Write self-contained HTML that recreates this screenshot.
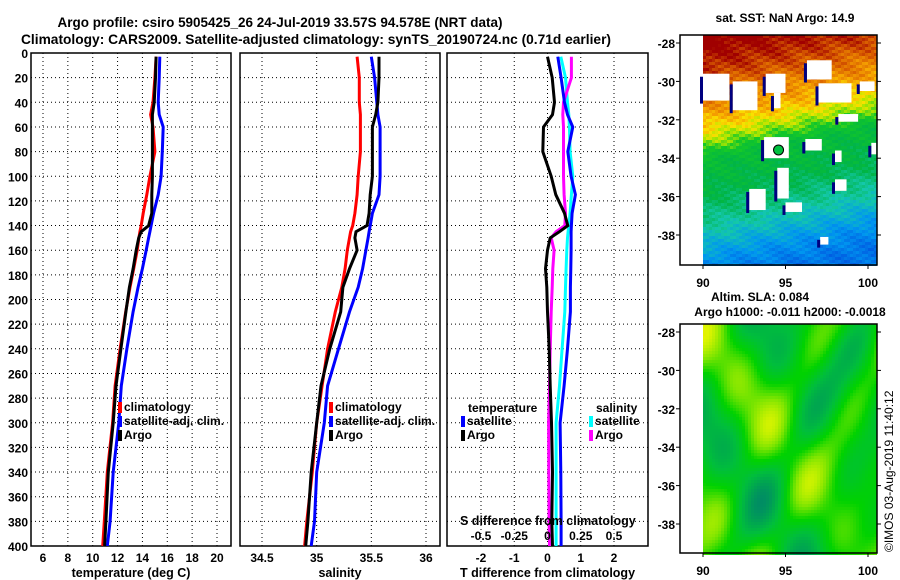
<!DOCTYPE html>
<html><head><meta charset="utf-8"><style>
body{margin:0;background:#fff;}
svg{display:block;font-family:"Liberation Sans",sans-serif;font-weight:bold;}
</style></head><body>
<svg id="fig" width="900" height="580" viewBox="0 0 900 580">
<text x="280" y="27" font-size="14" text-anchor="middle" textLength="445" lengthAdjust="spacingAndGlyphs">Argo profile: csiro 5905425_26 24-Jul-2019 33.57S 94.578E (NRT data)</text>
<text x="316" y="44" font-size="14" text-anchor="middle" textLength="590" lengthAdjust="spacingAndGlyphs">Climatology: CARS2009. Satellite-adjusted climatology: synTS_20190724.nc (0.71d earlier)</text>
<g id="panels"></g>
<g id="maps"></g>
</svg>
<script>
const depths=[3,20,40,50,60,80,100,115,130,140,145,150,160,175,190,210,240,270,300,340,380,400];
const tClim=[15.1,15.0,14.85,14.66,14.85,15.0,14.6,14.35,14.06,13.9,13.8,13.72,13.58,13.3,13.0,12.65,12.2,11.8,11.6,11.17,10.93,10.8];
const tSat=[15.4,15.35,15.27,15.35,15.67,15.6,15.5,15.27,14.9,14.7,14.6,14.5,14.3,14.0,13.65,13.25,12.75,12.3,12.1,11.65,11.4,11.17];
const tArgo=[15.1,15.05,14.95,14.8,14.8,14.8,14.8,14.75,14.75,14.5,13.9,13.7,13.5,13.25,12.95,12.67,12.27,11.87,11.65,11.25,11.06,10.96];
const sClim=[35.37,35.39,35.39,35.4,35.4,35.4,35.38,35.37,35.35,35.33,35.31,35.3,35.28,35.26,35.23,35.17,35.1,35.05,35.0,34.96,34.91,34.89];
const sSat=[35.5,35.53,35.55,35.56,35.58,35.58,35.58,35.57,35.51,35.49,35.48,35.47,35.45,35.42,35.38,35.3,35.2,35.1,35.07,35.0,34.98,34.95];
const sArgo=[35.57,35.57,35.56,35.54,35.51,35.51,35.51,35.49,35.48,35.46,35.36,35.35,35.37,35.3,35.24,35.22,35.12,35.04,35.0,34.95,34.92,34.9];
const dTSat=[0.31,0.41,0.51,0.6,0.76,0.61,0.71,0.84,0.74,0.72,0.71,0.71,0.71,0.7,0.69,0.69,0.6,0.5,0.38,0.4,0.41,0.41];
const dTArgo=[0.0,0.14,0.21,0.15,-0.12,-0.14,0.11,0.25,0.51,0.61,0.36,0.08,0.0,-0.06,-0.02,0.0,0.05,0.08,0.12,0.15,0.13,0.15];
const dSSat=[0.10,0.135,0.15,0.16,0.165,0.17,0.19,0.18,0.17,0.16,0.155,0.15,0.145,0.14,0.135,0.13,0.11,0.09,0.065,0.065,0.065,0.065];
const dSArgo=[0.18,0.18,0.12,0.115,0.12,0.12,0.12,0.125,0.135,0.13,0.065,0.028,0.05,0.04,0.035,0.028,0.02,0.015,0.008,0.01,0.012,0.015];
const depthTicks=[0,20,40,60,80,100,120,140,160,180,200,220,240,260,280,300,320,340,360,380,400];
const tTicks=[6,8,10,12,14,16,18,20];
const sTicks=[34.5,35,35.5,36];
const dTTicks=[-2,-1,0,1,2];
const dSTicks=[-0.5,-0.25,0,0.25,0.5];
const dSTickLabels=["-0.5","-0.25","0","0.25","0.5"];

const NS='http://www.w3.org/2000/svg';
const panels=document.getElementById('panels');
const maps=document.getElementById('maps');
function mk(tag,attrs,parent){const e=document.createElementNS(NS,tag);for(const k in attrs)e.setAttribute(k,attrs[k]);(parent||panels).appendChild(e);return e;}
const Y0=53,Y1=546;
const yD=d=>Y0+d*(Y1-Y0)/400;
function lin(d0,d1,r0,r1){return v=>r0+(v-d0)*(r1-r0)/(d1-d0);}
const xT=lin(6,20,43,217), xS=lin(34.5,36,262,426), xdT=lin(-2,2,481,614), xdS=lin(-0.5,0.5,481,614);

function frame(x0,x1,name,ticks,xf,labels,xlabel){
  const g=mk('g',{});
  
  
  for(const d of depthTicks){const l=mk('line',{x1:x0,x2:x1,y1:yD(d),y2:yD(d),stroke:'#000','stroke-width':1,'stroke-dasharray':'1,3'},g);}
  ticks.forEach((t,i)=>{const x=xf(t);const l=mk('line',{x1:x,x2:x,y1:Y0,y2:Y1,stroke:'#000','stroke-width':1,'stroke-dasharray':'1,3'},g);
    if(labels){const tx=mk('text',{x:x,y:Y1+16,'font-size':12,'text-anchor':'middle'},g);tx.textContent=labels[i];}});
  const r=mk('rect',{x:x0,y:Y0,width:x1-x0,height:Y1-Y0,fill:'none',stroke:'#000','stroke-width':1.5},g);
  
  const xl=mk('text',{x:(x0+x1)/2,y:Y1+31,'font-size':12.5,'text-anchor':'middle'},g);xl.textContent=xlabel;
  
  return g;
}
function series(vals,xf,color,name,g){
  const pts=vals.map((v,i)=>xf(v).toFixed(1)+','+yD(depths[i]).toFixed(1)).join(' ');
  const p=mk('polyline',{points:pts,fill:'none',stroke:color,'stroke-width':3,'stroke-linejoin':'miter'},g);
  
}
function legend(x,y,color,label,g){
  const r=mk('rect',{x:x,y:y-9,width:4,height:11,fill:color},g);
  const t=mk('text',{x:x+6,y:y,'font-size':12},g);t.textContent=label;
}
for(const d of depthTicks){const t=mk('text',{x:28,y:yD(d)+5,'font-size':12,'text-anchor':'end'});t.textContent=d;}

const g1=frame(31,231,'temperature-panel',tTicks,xT,tTicks,'temperature (deg C)');
series(tClim,xT,'#f00','series-t-climatology',g1);
series(tSat,xT,'#00f','series-t-satellite',g1);
series(tArgo,xT,'#000','series-t-argo',g1);
legend(118,411,'#f00','climatology',g1);legend(118,425,'#00f','satellite-adj. clim.',g1);legend(118,439,'#000','Argo',g1);

const g2=frame(240,440,'salinity-panel',sTicks,xS,["34.5","35","35.5","36"],'salinity');
series(sClim,xS,'#f00','series-s-climatology',g2);
series(sSat,xS,'#00f','series-s-satellite',g2);
series(sArgo,xS,'#000','series-s-argo',g2);
legend(329,411,'#f00','climatology',g2);legend(329,425,'#00f','satellite-adj. clim.',g2);legend(329,439,'#000','Argo',g2);

const g3=frame(447,648,'difference-panel',dTTicks,xdT,dTTicks.map(String),'T difference from climatology');
series(dSSat,xdS,'#0ff','series-ds-satellite',g3);
series(dSArgo,xdS,'#f0f','series-ds-argo',g3);
series(dTSat,xdT,'#00f','series-dt-satellite',g3);
series(dTArgo,xdT,'#000','series-dt-argo',g3);
{const t=mk('text',{x:468,y:412,'font-size':12},g3);t.textContent='temperature';
 const t2=mk('text',{x:596,y:412,'font-size':12},g3);t2.textContent='salinity';}
legend(461,425,'#00f','satellite',g3);legend(461,439,'#000','Argo',g3);
legend(589,425,'#0ff','satellite',g3);legend(589,439,'#f0f','Argo',g3);
{const t=mk('text',{x:460,y:525,'font-size':12.5},g3);t.textContent='S difference from climatology';
 dSTicks.forEach((v,i)=>{const tx=mk('text',{x:xdS(v),y:540,'font-size':12,'text-anchor':'middle'},g3);tx.textContent=dSTickLabels[i];});}

const MX0=703,MX1=877,FX0=680;
const lonX=lon=>MX0+(lon-90)*16.5;
function mapFrame(top,bot,latY,name){
  const g=mk('g',{},maps);
  return g;
}
function mapAxes(g,top,bot,latY){
  const r=mk('rect',{x:FX0,y:top,width:MX1-FX0,height:bot-top,fill:'none',stroke:'#000','stroke-width':1.5},g);
  
  for(const la of [-28,-30,-32,-34,-36,-38]){const y=latY(la);
    mk('line',{x1:FX0-4,x2:FX0,y1:y,y2:y,stroke:'#000'},g);mk('line',{x1:MX1,x2:MX1+4,y1:y,y2:y,stroke:'#000'},g);
    const t=mk('text',{x:FX0-5,y:y+5,'font-size':12,'text-anchor':'end'},g);t.textContent=la;}
  for(const lo of [90,95,100]){const x=lonX(lo);mk('line',{x1:x,x2:x,y1:bot,y2:bot+4,stroke:'#000'},g);
    const t=mk('text',{x:x,y:bot+22,'font-size':12,'text-anchor':'middle'},g);t.textContent=lo;}
}
function lerpC(stops,t){t=Math.max(0,Math.min(1,t));for(let i=1;i<stops.length;i++){if(t<=stops[i][0]){const a=stops[i-1],b=stops[i],f=(t-a[0])/(b[0]-a[0]);return 'rgb('+[0,1,2].map(k=>Math.round(a[1][k]+f*(b[1][k]-a[1][k]))).join(',')+')';}}return 'rgb('+stops[stops.length-1][1].join(',')+')';}
const sstStops=[[0,[0,70,220]],[0.18,[0,150,240]],[0.32,[20,200,170]],[0.45,[0,180,70]],[0.58,[20,200,40]],[0.66,[170,230,0]],[0.72,[250,225,0]],[0.8,[245,160,0]],[0.9,[215,90,0]],[1,[160,0,0]]];
const slaStops=[[0,[0,140,100]],[0.3,[0,190,60]],[0.5,[0,210,0]],[0.7,[130,230,0]],[0.9,[225,245,0]],[1,[240,200,0]]];
const cell=3;
{const top=35,bot=265;const latY=la=>43+(-28-la)*19.2;
 const g=mapFrame(top,bot,latY,'sst-map');
 const tt=mk('text',{x:785,y:22,'font-size':12,'text-anchor':'middle'},g);tt.textContent='sat. SST: NaN Argo: 14.9';
 const latPts=[-27.5,-28.5,-29.5,-30.5,-31.5,-32.5,-33.3,-35,-36.5,-37.5,-38.5,-39.7];
 const latV=[1.0,0.95,0.88,0.82,0.74,0.62,0.5,0.45,0.35,0.26,0.17,0.1];
 for(let y=top;y<bot;y+=cell){for(let x=MX0;x<MX1;x+=cell){
   const la=-28-(y+1.5-43)/19.2, lo=90+(x+1.5-MX0)/16.5;
   let la2=la-(lo-95)*0.18;let v=latV[0];
   for(let i=1;i<latPts.length;i++){if(la2>=latPts[i]){const f=(latPts[i-1]-la2)/(latPts[i-1]-latPts[i]);v=latV[i-1]+f*(latV[i]-latV[i-1]);break;} if(i==latPts.length-1)v=latV[i];}
   v+=0.03*Math.sin(x*0.45+y*0.9)+0.025*Math.sin(x*0.13-y*0.21);
   mk('rect',{x:x,y:y,width:cell,height:cell,fill:lerpC(sstStops,v)},g);}}
 const gaps=[[90,91.6,-29.6,-31.0],[91.8,93.3,-30.0,-31.5],[93.8,95.0,-29.6,-30.6],[94.3,94.7,-30.6,-31.4],[96.3,97.8,-28.9,-29.9],[97.0,99.0,-30.1,-31.1],[99.5,100.4,-30.0,-30.5],[98.2,99.4,-31.7,-32.1],[93.7,95.2,-32.9,-34.0],[96.2,97.2,-33.0,-33.6],[98.0,98.4,-33.6,-34.2],[94.5,95.2,-34.5,-36.1],[92.8,93.8,-35.6,-36.7],[95.0,96.0,-36.3,-36.8],[98.0,98.7,-35.1,-35.7],[97.1,97.6,-38.1,-38.5],[100.2,100.5,-33.2,-33.8]];
 for(const q of gaps){const x0=lonX(q[0]),x1=lonX(q[1]),y0=latY(q[2]),y1=latY(q[3]);
   mk('rect',{x:x0,y:y0,width:x1-x0,height:y1-y0,fill:'#fff'},g);
   mk('rect',{x:x0-3,y:y0+3,width:3,height:y1-y0,fill:'#000080'},g);}
 const c=mk('circle',{cx:lonX(94.578),cy:latY(-33.57),r:5,fill:'#00c040',stroke:'#000','stroke-width':1},g);
 
 mapAxes(g,top,bot,latY);}
{const top=324,bot=553;const latY=la=>332+(-28-la)*19.2;
 const g=mapFrame(top,bot,latY,'sla-map');
 const t1=mk('text',{x:760,y:301,'font-size':12,'text-anchor':'middle'},g);t1.textContent='Altim. SLA: 0.084';
 const t2=mk('text',{x:790,y:316,'font-size':12,'text-anchor':'middle'},g);t2.textContent='Argo h1000: -0.011 h2000: -0.0018';
 for(let y=top;y<bot;y+=cell){for(let x=MX0;x<MX1;x+=cell){
   const u=(x-MX0)/174,w=(y-top)/229;
   let v=0.47+0.22*Math.sin(u*11+1.2)*Math.cos(w*9-0.5)+0.15*Math.sin(u*6-w*7+2)+0.1*Math.cos(u*17+w*13);
   mk('rect',{x:x,y:y,width:cell,height:cell,fill:lerpC(slaStops,v)},g);}}
 mapAxes(g,top,bot,latY);
 const c=mk('text',{x:0,y:0,'font-size':12,'font-weight':'normal',transform:'translate(893,552) rotate(-90)'},g);c.textContent='©IMOS 03-Aug-2019 11:40:12';
 }
</script>
</body></html>
